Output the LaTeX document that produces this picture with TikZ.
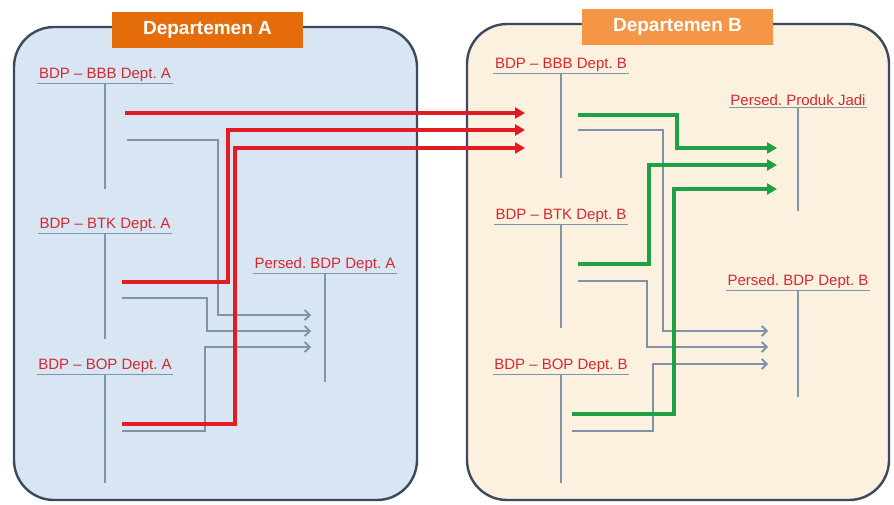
\documentclass[tikz,border=0pt]{standalone}
\usepackage{fontspec}
\setmainfont{Liberation Sans}
\usetikzlibrary{arrows.meta}

\definecolor{panelA}{RGB}{216,229,243}
\definecolor{panelB}{RGB}{252,241,222}
\definecolor{frame}{RGB}{60,72,92}
\definecolor{orangeA}{RGB}{228,108,10}
\definecolor{orangeB}{RGB}{244,150,70}
\definecolor{acctred}{RGB}{214,40,48}
\definecolor{tline}{RGB}{130,148,170}
\definecolor{flowred}{RGB}{226,28,34}
\definecolor{flowgreen}{RGB}{30,160,70}
\definecolor{flowgray}{RGB}{128,146,170}

\tikzset{
  panel/.style={draw=frame, line width=2.4pt, rounded corners=40pt},
  deptbox/.style={fill=#1, text=white, font=\bfseries\fontsize{19}{21}\selectfont,
    minimum width=191pt, minimum height=36pt, inner sep=0pt},
  acct/.style={text=acctred, font=\fontsize{15}{17}\selectfont, inner sep=1.5pt},
  tacc/.style={draw=tline, line width=1.2pt},
  redflow/.style={draw=flowred, line width=3.4pt, -{Triangle[length=10pt,width=11pt]}},
  greenflow/.style={draw=flowgreen, line width=3.4pt, -{Triangle[length=10pt,width=11pt]}},
  grayflow/.style={draw=flowgray, line width=1.8pt, -{Straight Barb[length=5pt,width=10pt]}}
}

\begin{document}
\begin{tikzpicture}[x=1pt, y=-1pt]
  \useasboundingbox (0,0) rectangle (894,504);

  % Panels
  \filldraw[panel, fill=panelA] (14,27) rectangle (417,500);
  \filldraw[panel, fill=panelB] (467,24) rectangle (889,500);
  \node[deptbox=orangeA] (deptA) at (207.5,30) {Departemen A};
  \node[deptbox=orangeB] (deptB) at (677.5,27) {Departemen B};

  % T accounts, Departemen A
  \node[acct] (bbbA) at (105,75) {BDP -- BBB Dept.\ A};
  \node[acct] (btkA) at (105,225) {BDP -- BTK Dept.\ A};
  \node[acct] (bopA) at (105,366) {BDP -- BOP Dept.\ A};
  \node[acct] (bdpA) at (325,265) {Persed.\ BDP Dept.\ A};
  % T accounts, Departemen B
  \node[acct] (bbbB) at (561,65) {BDP -- BBB Dept.\ B};
  \node[acct] (btkB) at (561,216) {BDP -- BTK Dept.\ B};
  \node[acct] (bopB) at (561,366) {BDP -- BOP Dept.\ B};
  \node[acct] (pjB) at (798,100) {Persed.\ Produk Jadi};
  \node[acct] (bdpB) at (798,282) {Persed.\ BDP Dept.\ B};

  \foreach \acc/\len in {bbbA/106, btkA/106, bopA/108, bdpA/108,
                         bbbB/105, btkB/104, bopB/108, pjB/104, bdpB/106} {
    \draw[tacc] (\acc.south west) -- (\acc.south east);
    \draw[tacc] (\acc.south) -- ++(0,\len);
  }

  % Flow ends
  \coordinate (rA1) at (125,113);
  \coordinate (rA2) at (122,282);
  \coordinate (rA3) at (122,424);
  \coordinate (rB1) at (525,113);
  \coordinate (rB2) at (525,130);
  \coordinate (rB3) at (525,148);
  \coordinate (gA1) at (127,140);
  \coordinate (gA2) at (122,298);
  \coordinate (gA3) at (122,431);
  \coordinate (gA4) at (311,315);
  \coordinate (gA5) at (311,331);
  \coordinate (gA6) at (311,347);
  \coordinate (eB1) at (578,115);
  \coordinate (eB2) at (578,264);
  \coordinate (eB3) at (572,414);
  \coordinate (eP1) at (777,148);
  \coordinate (eP2) at (777,165);
  \coordinate (eP3) at (777,189);
  \coordinate (hB1) at (578,130);
  \coordinate (hB2) at (578,281);
  \coordinate (hB3) at (572,431);
  \coordinate (hP1) at (768,331);
  \coordinate (hP2) at (768,347);
  \coordinate (hP3) at (768,364);

  % Departemen A
  \draw[grayflow] (gA1) -| (218,315) -- (gA4);
  \draw[grayflow] (gA2) -| (207,331) -- (gA5);
  \draw[grayflow] (gA3) -| (205,347) -- (gA6);
  \draw[redflow] (rA1) -- (rB1);
  \draw[redflow] (rA2) -| (228,130) -- (rB2);
  \draw[redflow] (rA3) -| (235,148) -- (rB3);

  % Departemen B
  \draw[grayflow] (hB1) -| (663,331) -- (hP1);
  \draw[grayflow] (hB2) -| (647,347) -- (hP2);
  \draw[grayflow] (hB3) -| (653,364) -- (hP3);
  \draw[greenflow] (eB1) -| (677,148) -- (eP1);
  \draw[greenflow] (eB2) -| (649,165) -- (eP2);
  \draw[greenflow] (eB3) -| (674,189) -- (eP3);
\end{tikzpicture}
\end{document}
